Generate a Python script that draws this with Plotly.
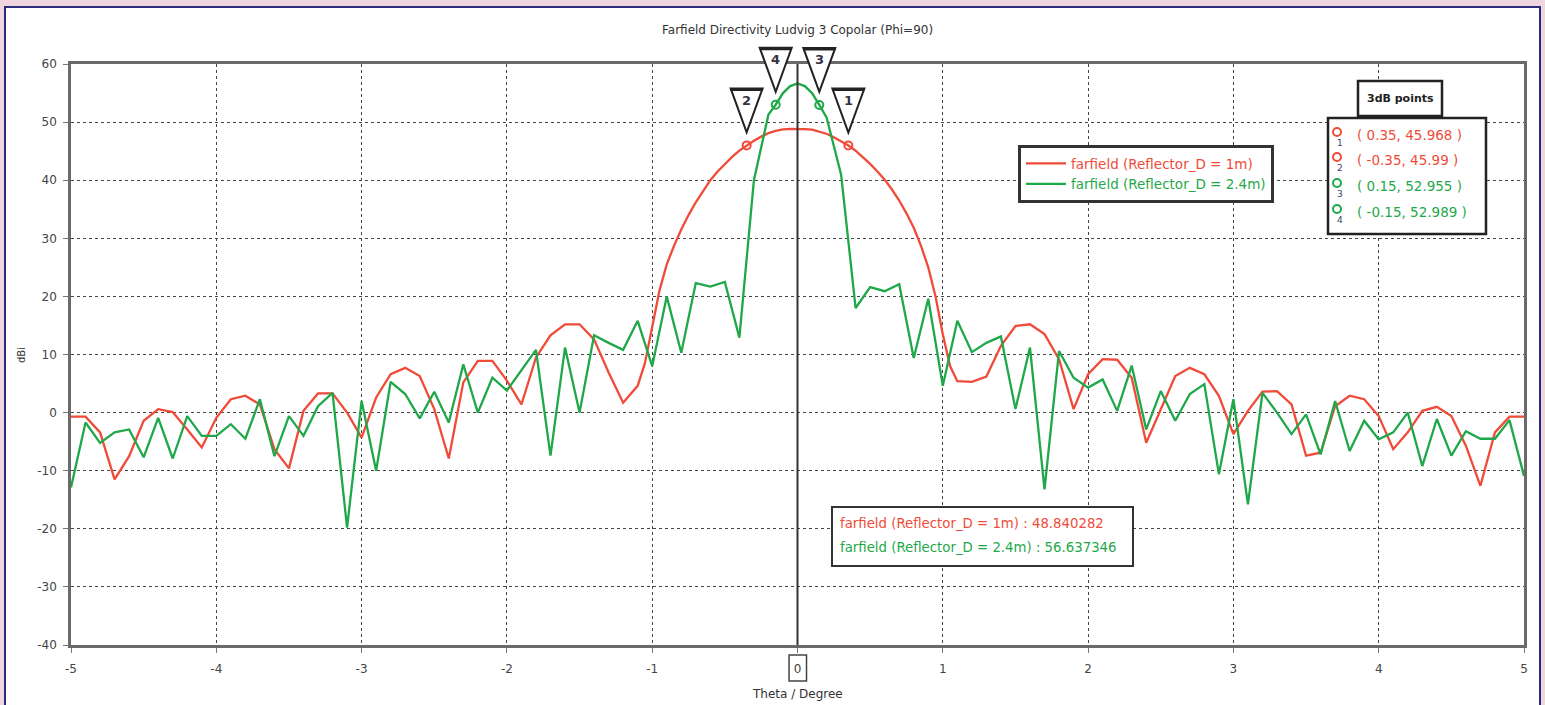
import plotly.graph_objects as go

# ---------------- data ----------------
theta_red = [-5.0, -4.9, -4.8, -4.7, -4.6, -4.5, -4.4, -4.3, -4.2, -4.1, -4.0, -3.9, -3.8, -3.7, -3.6,
             -3.5, -3.4, -3.3, -3.2, -3.1, -3.0, -2.9, -2.8, -2.7, -2.6, -2.5, -2.4, -2.3, -2.2, -2.1,
             -2.0, -1.9, -1.8, -1.7, -1.6, -1.5, -1.4, -1.3, -1.2, -1.1,
             -1.05, -1.0, -0.95, -0.9, -0.85, -0.8, -0.75, -0.7, -0.65, -0.6, -0.55, -0.5, -0.45, -0.4,
             -0.35, -0.3, -0.25, -0.2, -0.15, -0.1, -0.05, 0.0, 0.05, 0.1, 0.15, 0.2, 0.25, 0.3, 0.35,
             0.4, 0.45, 0.5, 0.55, 0.6, 0.65, 0.7, 0.75, 0.8, 0.85, 0.9, 0.95, 1.0, 1.05, 1.1,
             1.2, 1.3, 1.4, 1.5, 1.6, 1.7, 1.8, 1.9, 2.0, 2.1, 2.2, 2.3, 2.4, 2.5, 2.6, 2.7, 2.8, 2.9,
             3.0, 3.1, 3.2, 3.3, 3.4, 3.5, 3.6, 3.7, 3.8, 3.9, 4.0, 4.1, 4.2, 4.3, 4.4, 4.5, 4.6, 4.7,
             4.8, 4.9, 5.0]
dir_red = [-0.7, -0.7, -3.4, -11.5, -7.5, -1.4, 0.6, 0.1, -2.9, -6.0, -0.9, 2.3, 2.9, 1.4, -6.3,
           -9.6, 0.3, 3.3, 3.3, 0.0, -4.3, 2.6, 6.6, 7.7, 6.3, 0.6, -7.9, 5.2, 8.9, 8.9,
           5.5, 1.4, 9.5, 13.3, 15.2, 15.2, 12.6, 6.9, 1.7, 4.6,
           8.5, 15.0, 21.0, 25.5, 28.7, 31.5, 34.0, 36.2, 38.2, 40.0, 41.5, 42.8, 44.0, 45.1,
           45.99, 46.8, 47.5, 48.1, 48.5, 48.75, 48.84, 48.84, 48.8, 48.7, 48.4, 48.0, 47.4, 46.7, 45.968,
           45.1, 44.0, 42.8, 41.5, 40.1, 38.4, 36.5, 34.3, 31.8, 28.7, 25.0, 20.0, 13.5, 8.0, 5.4,
           5.3, 6.2, 11.5, 14.9, 15.2, 13.5, 9.2, 0.6, 6.6, 9.2, 9.1, 6.0, -5.2, 0.6, 6.3, 7.7, 6.6, 2.9,
           -3.7, 0.3, 3.6, 3.7, 1.4, -7.4, -6.9, 1.1, 2.9, 2.3, -0.6, -6.3, -3.4, 0.3, 1.0, -0.6, -5.7, -12.6,
           -3.4, -0.7, -0.7]

theta_green = [-5.0, -4.9, -4.8, -4.7, -4.6, -4.5, -4.4, -4.3, -4.2, -4.1, -4.0, -3.9, -3.8, -3.7, -3.6,
               -3.5, -3.4, -3.3, -3.2, -3.1, -3.0, -2.9, -2.8, -2.7, -2.6, -2.5, -2.4, -2.3, -2.2, -2.1,
               -2.0, -1.9, -1.8, -1.7, -1.6, -1.5, -1.4, -1.3, -1.2, -1.1, -1.0, -0.9, -0.8, -0.7, -0.6,
               -0.5, -0.4, -0.3, -0.2, -0.15, -0.1, -0.05, 0.0, 0.05, 0.1, 0.15, 0.2, 0.3, 0.4,
               0.5, 0.6, 0.7, 0.8, 0.9, 1.0, 1.1, 1.2, 1.3, 1.4, 1.5, 1.6, 1.7, 1.8, 1.9,
               2.0, 2.1, 2.2, 2.3, 2.4, 2.5, 2.6, 2.7, 2.8, 2.9, 3.0, 3.1, 3.2, 3.3, 3.4,
               3.5, 3.6, 3.7, 3.8, 3.9, 4.0, 4.1, 4.2, 4.3, 4.4, 4.5, 4.6, 4.7, 4.8, 4.9, 5.0]
dir_green = [-12.9, -1.7, -5.2, -3.4, -2.9, -7.7, -0.9, -7.9, -0.6, -4.0, -4.0, -2.0, -4.5, 2.3, -7.5,
             -0.6, -4.0, 1.1, 3.4, -19.8, 2.0, -10.0, 5.3, 3.2, -1.0, 3.6, -1.7, 8.3, 0.0, 6.0,
             3.8, 7.3, 10.8, -7.4, 11.2, 0.0, 13.3, 12.0, 10.8, 15.8, 8.0, 20.0, 10.3, 22.3, 21.7,
             22.5, 12.9, 40.0, 51.3, 52.989, 55.0, 56.2, 56.64, 56.2, 55.0, 52.955, 50.8, 41.0, 18.0,
             21.6, 20.9, 22.1, 9.4, 19.6, 4.6, 15.8, 10.4, 12.0, 13.1, 0.6, 11.2, -13.2, 10.6, 6.0,
             4.3, 5.7, 0.3, 8.1, -2.9, 3.7, -1.4, 3.2, 4.9, -10.6, 2.3, -15.8, 3.4, 0.0, -3.7,
             -0.3, -7.2, 2.0, -6.6, -1.4, -4.6, -3.4, 0.0, -9.2, -1.1, -7.4, -3.2, -4.5, -4.5, -1.3, -10.9]

series_names = ["farfield (Reflector_D = 1m)", "farfield (Reflector_D = 2.4m)"]
max_values = ["48.840282", "56.637346"]

marker_ids = ["1", "2", "3", "4"]
marker_theta = [0.35, -0.35, 0.15, -0.15]
marker_dir = [45.968, 45.99, 52.955, 52.989]
marker_series = [0, 0, 1, 1]
marker_labels = ["( 0.35, 45.968 )", "( -0.35, 45.99 )", "( 0.15, 52.955 )", "( -0.15, 52.989 )"]

x_ticks = [-5, -4, -3, -2, -1, 0, 1, 2, 3, 4, 5]
x_tick_text = ["-5", "-4", "-3", "-2", "-1", "0", "1", "2", "3", "4", "5"]
y_ticks = [-40, -30, -20, -10, 0, 10, 20, 30, 40, 50, 60]
y_tick_text = ["-40", "-30", "-20", "-10", "0", "10", "20", "30", "40", "50", "60"]

# ---------------- styling ----------------
RED = "#f04b38"
GREEN = "#1fa84a"
colors = [RED, GREEN]
FONT = "DejaVu Sans"
W, H = 1545, 705
L, R, T, B = 71, 21, 64, 60
PW, PH = W - L - R, H - T - B


def px2xp(px):
    return (px - L) / PW


def py2yp(py):
    return (H - B - py) / PH


fig = go.Figure()
fig.add_trace(go.Scatter(x=theta_red, y=dir_red, mode="lines",
                         line=dict(color=RED, width=2.3),
                         name='<span style="color:%s">%s</span>' % (RED, series_names[0])))
fig.add_trace(go.Scatter(x=theta_green, y=dir_green, mode="lines",
                         line=dict(color=GREEN, width=2.3),
                         name='<span style="color:%s">%s</span>' % (GREEN, series_names[1])))

for i in range(4):
    fig.add_trace(go.Scatter(x=[marker_theta[i]], y=[marker_dir[i]], mode="markers",
                             marker=dict(symbol="circle-open", size=8,
                                         color=colors[marker_series[i]],
                                         line=dict(width=2, color=colors[marker_series[i]])),
                             showlegend=False, cliponaxis=False, hoverinfo="skip"))

shapes = []
annotations = []


def note(x, y, text, size=13, color="#333333", xanchor="center", yanchor="middle", **kw):
    d = dict(xref="paper", yref="paper", x=x, y=y, text=text, showarrow=False,
             xanchor=xanchor, yanchor=yanchor,
             font=dict(family=FONT, size=size, color=color))
    d.update(kw)
    annotations.append(d)


# white panel with navy frame
shapes.append(dict(type="rect", xref="paper", yref="paper",
                   x0=px2xp(5), x1=px2xp(1540), y0=py2yp(712), y1=py2yp(7),
                   fillcolor="white", line=dict(color="#2c2c7c", width=2), layer="below"))

# marker line at theta = 0
shapes.append(dict(type="line", xref="x", yref="y", x0=0, x1=0, y0=-40, y1=60,
                   line=dict(color="#333333", width=2)))

# boxed 0 tick label
shapes.append(dict(type="rect", xref="x", yref="paper", x0=-0.058, x1=0.062,
                   y0=py2yp(681), y1=py2yp(655), line=dict(color="#444444", width=1.5)))

# marker triangles with numbers
for i in range(4):
    xa = (marker_theta[i] + 5) / 10.0
    ya = (marker_dir[i] + 40) / 100.0
    shapes.append(dict(type="path", xref="paper", yref="paper",
                       xsizemode="pixel", ysizemode="pixel", xanchor=xa, yanchor=ya,
                       path="M -16 57 L 16 57 L 0 13 Z",
                       fillcolor="white", line=dict(color="#222222", width=2)))
    shapes.append(dict(type="line", xref="paper", yref="paper",
                       xsizemode="pixel", ysizemode="pixel", xanchor=xa, yanchor=ya,
                       x0=-16, x1=16, y0=56, y1=56, line=dict(color="#222222", width=3)))
    note(xa, ya, "<b>%s</b>" % marker_ids[i], size=13, color="#333344", yshift=45)

# 3dB points box
shapes.append(dict(type="rect", xref="paper", yref="paper",
                   x0=px2xp(1358), x1=px2xp(1442), y0=py2yp(116), y1=py2yp(81),
                   fillcolor="white", line=dict(color="#222222", width=2.5)))
shapes.append(dict(type="rect", xref="paper", yref="paper",
                   x0=px2xp(1328), x1=px2xp(1486), y0=py2yp(234), y1=py2yp(118),
                   fillcolor="white", line=dict(color="#222222", width=2.5)))
note(px2xp(1400), py2yp(99), "<b>3dB points</b>", size=11, color="#222222")
row_y = [135, 160, 186, 212]
for i in range(4):
    c = colors[marker_series[i]]
    shapes.append(dict(type="circle", xref="paper", yref="paper",
                       xsizemode="pixel", ysizemode="pixel",
                       xanchor=px2xp(1337), yanchor=py2yp(row_y[i] - 3),
                       x0=-4, x1=4, y0=-4, y1=4, line=dict(color=c, width=2)))
    note(px2xp(1340), py2yp(row_y[i] + 8), marker_ids[i], size=9, color="#334466")
    note(px2xp(1355), py2yp(row_y[i]), marker_labels[i], size=13.5, color=c, xanchor="left")

# max value box
shapes.append(dict(type="rect", xref="paper", yref="paper",
                   x0=px2xp(832), x1=px2xp(1133), y0=py2yp(566), y1=py2yp(507),
                   fillcolor="white", line=dict(color="#333333", width=2)))
for i in range(2):
    note(px2xp(838), py2yp(523 + 24 * i), "%s : %s" % (series_names[i], max_values[i]),
         size=13.3, color=colors[i], xanchor="left")

# axis titles and chart title
note(px2xp(797), py2yp(30), "Farfield Directivity Ludvig 3 Copolar (Phi=90)", size=12)
note(px2xp(797), py2yp(694), "Theta / Degree", size=12)
note(px2xp(21), py2yp(355), "dBi", size=10, textangle=-90)

axis_common = dict(showgrid=True, gridcolor="#444444", gridwidth=1.4, griddash="dot",
                   showline=True, linecolor="#6a6a6a", linewidth=2.5, mirror=True,
                   zeroline=False, ticks="outside", ticklen=5, tickcolor="#777777",
                   tickfont=dict(family=FONT, size=12, color="#444444"))

fig.update_layout(
    width=W, height=H,
    margin=dict(l=L, r=R, t=T, b=B, pad=0),
    paper_bgcolor="#eed5de",
    plot_bgcolor="white",
    xaxis=dict(range=[-5, 5], tickvals=x_ticks, ticktext=x_tick_text, ticklabelstandoff=6,
               **axis_common),
    yaxis=dict(range=[-40, 60], tickvals=y_ticks, ticktext=y_tick_text, ticklabelstandoff=4,
               **axis_common),
    legend=dict(x=px2xp(1018), y=py2yp(145), xanchor="left", yanchor="top",
                bgcolor="white", bordercolor="#333333", borderwidth=3,
                font=dict(family=FONT, size=13.5), tracegroupgap=0, itemwidth=40),
    shapes=shapes,
    annotations=annotations,
    showlegend=True,
)

fig.write_html("out.html",
               config={"displayModeBar": False},
               post_script="document.body.style.margin='0px';"
                           "document.body.style.background='#eed5de';"
                           "document.documentElement.style.overflow='hidden';")
